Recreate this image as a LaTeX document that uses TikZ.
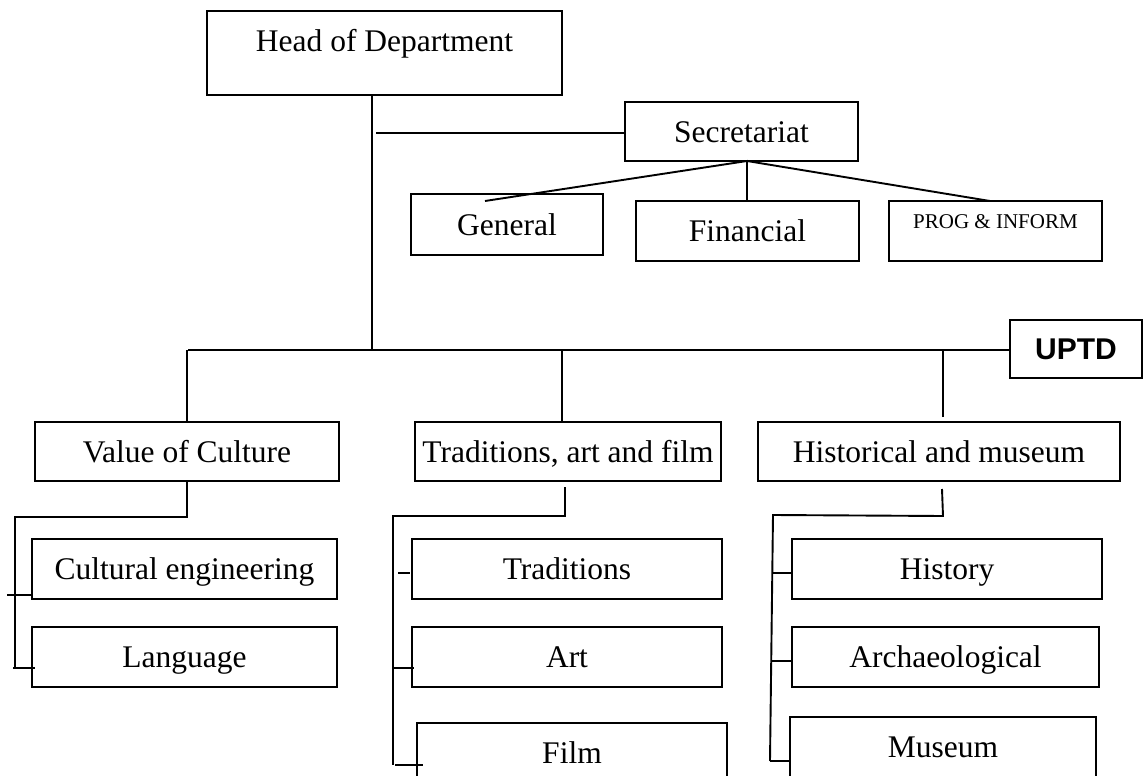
\documentclass[tikz,border=0pt]{standalone}
\usepackage{fontspec}
\setmainfont{Liberation Serif}
\newfontfamily\arialfam{Liberation Sans}
\newcommand\tnrbig{\fontsize{31.5pt}{36pt}\selectfont}
\newcommand\tnrsmall{\fontsize{21pt}{25pt}\selectfont}
\newcommand\uptdtxt{\arialfam\bfseries\fontsize{30pt}{34pt}\selectfont}
\tikzset{
  box/.style={draw, line width=2pt, inner sep=0pt, font=\tnrbig, text height=21pt, text depth=0pt},
  conn/.style={line width=1.9pt},
  thin conn/.style={line width=1.4pt},
}
\begin{document}
\begin{tikzpicture}[x=1pt,y=-1pt]
\useasboundingbox (0,0) rectangle (1144,776);
% ---- top level
\node[box, minimum width=355pt, minimum height=84pt, text depth=23pt] (hod) at (384.5,53) {Head of Department};
\node[box, minimum width=233pt, minimum height=59pt] (sec) at (741.5,131.5) {Secretariat};
\node[box, minimum width=192pt, minimum height=61pt] (gen) at (507,224.5) {General};
\node[box, minimum width=223pt, minimum height=60pt] (fin) at (747.5,231) {Financial};
\node[box, minimum width=213pt, minimum height=60pt, font=\tnrsmall, text height=14pt, text depth=20pt] (prog) at (995.5,231) {PROG \& INFORM};
\node[box, minimum width=132pt, minimum height=58pt, font=\uptdtxt, text height=21.5pt] (uptd) at (1076,349) {UPTD};
% ---- second level
\node[box, minimum width=304pt, minimum height=59pt] (vc) at (187,451.5) {Value of Culture};
\node[box, minimum width=306pt, minimum height=59pt] (taf) at (568,451.5) {Traditions, art and film};
\node[box, minimum width=362pt, minimum height=59pt] (hm) at (939,451.5) {Historical and museum};
% ---- third level
\node[box, minimum width=305pt, minimum height=60pt] (ce) at (184.5,569) {Cultural engineering};
\node[box, minimum width=305pt, minimum height=60pt] (lang) at (184.5,657) {Language};
\node[box, minimum width=310pt, minimum height=60pt] (trad) at (567,569) {Traditions};
\node[box, minimum width=310pt, minimum height=60pt] (art) at (567,657) {Art};
\node[box, minimum width=310pt, minimum height=60pt] (film) at (572,753) {Film};
\node[box, minimum width=310pt, minimum height=60pt] (hist) at (947,569) {History};
\node[box, minimum width=307pt, minimum height=60pt] (arch) at (945.5,657) {Archaeological};
\node[box, minimum width=306pt, minimum height=60pt] (mus) at (943,747) {Museum};
% ---- coordinates
\coordinate (hv) at (372,350);
\coordinate (busL) at (188,350);
\coordinate (sl) at (376,133);
\coordinate (sj) at (747,161);
\coordinate (gend) at (485,201);
\coordinate (pend) at (990,201);
\coordinate (tdrop) at (562,350);
\coordinate (hdrop) at (943,350);
% value of culture branch
\coordinate (va) at (187,517);
\coordinate (vb) at (15,517);
\coordinate (vc1) at (15,668);
\coordinate (vt1a) at (7,595);
\coordinate (vt2a) at (13,668);
\coordinate (vt2b) at (35,668);
% traditions branch
\coordinate (ta0) at (565,487);
\coordinate (ta) at (565,516);
\coordinate (tb) at (393,516);
\coordinate (tc) at (393,765);
\coordinate (tt1a) at (398,573);
\coordinate (tt1b) at (410,573);
\coordinate (tt2b) at (414,668);
\coordinate (tt3a) at (395,765);
\coordinate (tt3b) at (423,765);
% historical branch
\coordinate (ha0) at (942,489);
\coordinate (ha) at (943,516);
\coordinate (hb) at (773,515);
\coordinate (hc) at (770,761);
\coordinate (ht1) at (773,573);
\coordinate (ht2) at (772,661);
\coordinate (ht3b) at (790,761);
% ---- connectors
\draw[thin conn] (hv |- hod.south) -- (hv);
\draw[conn] (sl) -- (sl -| sec.west);
\draw[conn] (gend) -- (sj) -- (sj |- fin.north);
\draw[conn] (sj) -- (pend);
\draw[conn] (busL) -- (busL -| uptd.west);
\draw[conn] (vc.north) -- (vc.north |- busL);
\draw[conn] (tdrop |- taf.north) -- (tdrop);
\draw[conn] (hdrop |- hm.north) ++(0,-4) -- (hdrop);
% VoC branch
\draw[conn] (vc.south) -- (va) -- (vb) -- (vc1);
\draw[conn] (vt1a) -- (vt1a -| ce.west);
\draw[conn] (vt2a) -- (vt2b);
% Traditions branch
\draw[conn] (ta0) -- (ta) -- (tb) -- (tc);
\draw[conn] (tt1a) -- (tt1b);
\draw[conn] (tb |- tt2b) -- (tt2b);
\draw[conn] (tt3a) -- (tt3b);
% Historical branch
\draw[conn] (ha0) -- (ha) -- (hb) -- (hc);
\draw[conn] (ht1) -- (ht1 -| hist.west);
\draw[conn] (ht2) -- (ht2 -| arch.west);
\draw[conn] (hc) -- (ht3b);
\end{tikzpicture}
\end{document}
